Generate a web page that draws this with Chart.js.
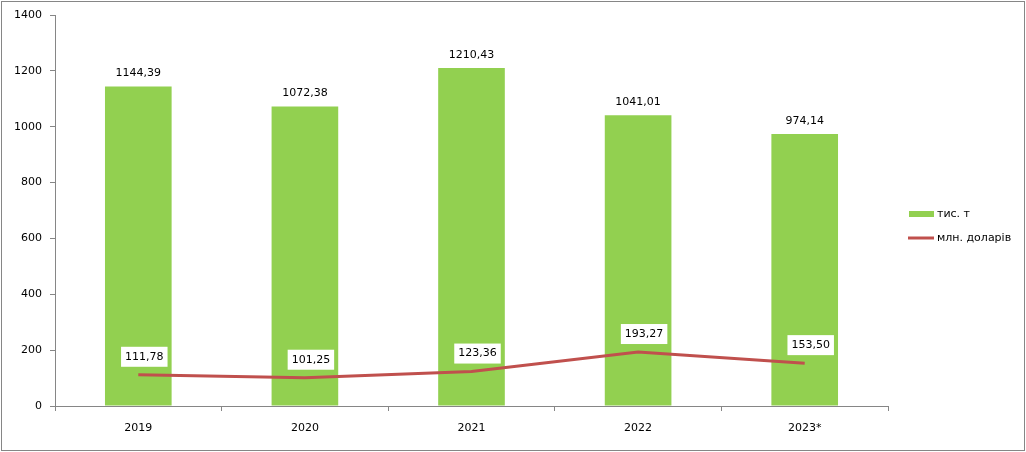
<!DOCTYPE html>
<html>
<head>
<meta charset="utf-8">
<script src="https://cdn.jsdelivr.net/npm/chart.js@4"></script>
<style>
  html, body { margin: 0; padding: 0; background: #fff; }
  #wrap { width: 1026px; height: 452px; position: relative; }
</style>
</head>
<body>
<div id="wrap"><canvas id="chart_exportChart"></canvas></div>
<script>
var years = ['2019', '2020', '2021', '2022', '2023*'];
var tonnes = [1144.39, 1072.38, 1210.43, 1041.01, 974.14];
var dollars = [111.78, 101.25, 123.36, 193.27, 153.50];
var tonnesLabel = 'тис. т';
var dollarsLabel = 'млн. доларів';

var FONT = 'DejaVu Sans';
function fmt(v) { return v.toFixed(2).replace('.', ','); }

var chart_exportChart = new Chart(document.getElementById('chart_exportChart'), {
    type: 'bar',
    data: {
        labels: years,
        datasets: [
            {
                  type: 'line',
                  label: dollarsLabel,
                  data: dollars,
                  borderColor: '#C0504D',
                  backgroundColor: '#C0504D',
                  borderWidth: 3,
                  pointRadius: 0,
                  tension: 0,
                  order: 0
            },
            {
                  label: tonnesLabel,
                  data: tonnes,
                  backgroundColor: '#92D050',
                  borderWidth: 0,
                  categoryPercentage: 1.0,
                  barPercentage: 0.4,
                  order: 1
            }
        ]
    },
    options: {
        animation: false,
        responsive: true,
        maintainAspectRatio: false,
        layout: {
            padding: { top: 15, right: 138, left: 10, bottom: 0 }
        },
        plugins: {
            legend: { display: false },
            tooltip: { enabled: false }
        },
        scales: {
            x: {
                offset: true,
                grid: {
                    offset: true,
                    drawOnChartArea: false,
                    tickLength: 5,
                    color: '#868686'
                },
                border: { color: '#868686', width: 1 },
                ticks: {
                    color: '#000',
                    font: { family: FONT, size: 11 },
                    padding: 11,
                    maxRotation: 0
                },
                afterFit: function (scale) { scale.height = 46; }
            },
            y: {
                min: 0,
                max: 1400,
                grid: {
                    drawOnChartArea: false,
                    tickLength: 5,
                    color: '#868686'
                },
                border: { color: '#868686', width: 1 },
                ticks: {
                    stepSize: 200,
                    color: '#000',
                    font: { family: FONT, size: 11 },
                    padding: 8,
                    callback: function (v) { return String(v); }
                },
                afterFit: function (scale) { scale.width = 45; }
            }
        }
    },
    plugins: [{
        id: 'customPlugin',
        beforeDraw: (chart) => {
            const ctx = chart.ctx;
            ctx.save();
            ctx.fillStyle = 'white';
            ctx.fillRect(0, 0, chart.width, chart.height);
            ctx.strokeStyle = '#868686';
            ctx.lineWidth = 1;
            ctx.strokeRect(1.5, 1.5, chart.width - 3, chart.height - 3);
            ctx.restore();
        },
        afterDatasetsDraw: (chart) => {
            const ctx = chart.ctx;
            ctx.save();
            ctx.font = '11px "' + FONT + '"';
            ctx.textAlign = 'center';
            ctx.textBaseline = 'middle';
            // bar values
            chart.getDatasetMeta(1).data.forEach(function (bar, i) {
                ctx.fillStyle = '#000';
                ctx.fillText(fmt(tonnes[i]), bar.x, bar.y - 13);
            });
            // line values in white boxes
            chart.getDatasetMeta(0).data.forEach(function (pt, i) {
                const t = fmt(dollars[i]);
                const w = ctx.measureText(t).width + 8;
                const cx = pt.x + 6, cy = pt.y - 18;
                ctx.fillStyle = '#fff';
                ctx.fillRect(cx - w / 2, cy - 10, w, 20);
                ctx.fillStyle = '#000';
                ctx.fillText(t, cx, cy);
            });
            // legend
            const lx = 909;
            ctx.textAlign = 'left';
            ctx.fillStyle = '#92D050';
            ctx.fillRect(lx, 211, 25, 6);
            ctx.fillStyle = '#000';
            ctx.fillText(tonnesLabel, lx + 28, 214);
            ctx.strokeStyle = '#C0504D';
            ctx.lineWidth = 3;
            ctx.beginPath();
            ctx.moveTo(lx - 1, 238);
            ctx.lineTo(lx + 25, 238);
            ctx.stroke();
            ctx.fillText(dollarsLabel, lx + 28, 238);
            ctx.restore();
        }
    }]
});
</script>
</body>
</html>
